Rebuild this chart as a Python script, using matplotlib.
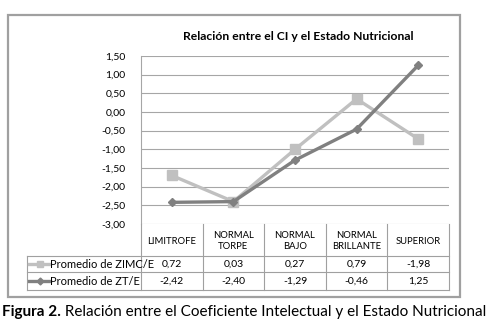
import matplotlib
matplotlib.use("Agg")
import matplotlib.pyplot as plt
from matplotlib.patches import Rectangle
from matplotlib.lines import Line2D
from matplotlib import font_manager as fm

categories = ["LIMITROFE", "NORMAL\nTORPE", "NORMAL\nBAJO", "NORMAL\nBRILLANTE", "SUPERIOR"]
zimc_plotted = [-1.70, -2.40, -1.00, 0.35, -0.72]
zt_values = [-2.42, -2.40, -1.29, -0.46, 1.25]
zimc_table = ["0,72", "0,03", "0,27", "0,79", "-1,98"]
zt_table = ["-2,42", "-2,40", "-1,29", "-0,46", "1,25"]
series_names = ["Promedio de ZIMC/E", "Promedio de ZT/E"]
yticks = [1.5, 1.0, 0.5, 0.0, -0.5, -1.0, -1.5, -2.0, -2.5, -3.0]
title = "Relación entre el CI y el Estado Nutricional"

names = {f.name for f in fm.fontManager.ttflist}
FONT = "Liberation Sans Narrow" if "Liberation Sans Narrow" in names else "Lato"
plt.rcParams['font.family'] = [FONT, 'DejaVu Sans']

W, H = 492, 330
fig = plt.figure(figsize=(W/100, H/100), dpi=100)

def fx(px):
    return px / W

def fy(py):
    return 1 - py / H

c_light = "#c0c0c0"
c_dark = "#808080"
grid_c = "#a6a6a6"

# outer box
fig.patches.append(Rectangle((fx(8), fy(297)), fx(460) - fx(8), fy(15) - fy(297),
                             transform=fig.transFigure, fill=False,
                             edgecolor="#a0a0a0", linewidth=1.6))

left, right, top, bottom = 141, 449, 56, 224
ax = fig.add_axes([fx(left), fy(bottom), fx(right) - fx(left), fy(top) - fy(bottom)])
x = list(range(len(categories)))
ax.set_xlim(-0.5, len(categories) - 0.5)
ax.set_ylim(-3.0, 1.5)
ax.set_yticks(yticks)
ax.set_yticklabels([f"{v:.2f}".replace(".", ",") for v in yticks], fontsize=7.5)
ax.tick_params(axis="y", length=0, pad=11)
ax.set_xticks([])
ax.yaxis.grid(True, color=grid_c, linewidth=0.8)
ax.set_axisbelow(True)
for s in ["top", "right", "bottom"]:
    ax.spines[s].set_visible(False)
ax.spines["left"].set_color(grid_c)
ax.spines["left"].set_linewidth(0.8)

ax.plot(x, zimc_plotted, color=c_light, linewidth=2.4, marker="s", markersize=7, zorder=3)
ax.plot(x, zt_values, color=c_dark, linewidth=2.4, marker="D", markersize=4.5, zorder=4)

# title
t = fig.text(fx(298), fy(36), title, ha="center", va="center", fontsize=9, fontweight="bold")
fig.canvas.draw()
w = t.get_window_extent().width
t.set_fontsize(9 * 230 / w)

# table
tab_lw = 0.8
tab_c = "#a0a0a0"
def hline(x0px, x1px, ypx):
    fig.add_artist(Line2D([fx(x0px), fx(x1px)], [fy(ypx), fy(ypx)], transform=fig.transFigure,
                          color=tab_c, linewidth=tab_lw))
def vline(xpx, y0px, y1px):
    fig.add_artist(Line2D([fx(xpx), fx(xpx)], [fy(y0px), fy(y1px)], transform=fig.transFigure,
                          color=tab_c, linewidth=tab_lw))

cat_w = (right - left) / len(categories)
bounds = [left + i * cat_w for i in range(len(categories) + 1)]
hdr_top, hdr_bot, r1_bot, r2_bot = 224, 256, 272, 290
leg_left = 27
hline(leg_left, right, hdr_bot)
hline(leg_left, right, r1_bot)
hline(leg_left, right, r2_bot)
vline(leg_left, hdr_bot, r2_bot)
for b in bounds:
    vline(b, hdr_top, r2_bot)

for i, cat in enumerate(categories):
    cx = (bounds[i] + bounds[i + 1]) / 2
    fig.text(fx(cx), fy((hdr_top + hdr_bot) / 2 + 1), cat, ha="center", va="center",
             fontsize=6.8, linespacing=1.25)
    fig.text(fx(cx), fy((hdr_bot + r1_bot) / 2 + 0.5), zimc_table[i], ha="center", va="center", fontsize=7.5)
    fig.text(fx(cx), fy((r1_bot + r2_bot) / 2 + 0.5), zt_table[i], ha="center", va="center", fontsize=7.5)

# legend keys in table
for (ypx0, ypx1), name, col, mk, ms in [((hdr_bot, r1_bot), series_names[0], c_light, "s", 5),
                                          ((r1_bot, r2_bot), series_names[1], c_dark, "D", 3.5)]:
    yc = fy((ypx0 + ypx1) / 2)
    fig.add_artist(Line2D([fx(29), fx(50)], [yc, yc], transform=fig.transFigure,
                          color=col, linewidth=2.4))
    fig.add_artist(Line2D([fx(40)], [yc], transform=fig.transFigure, color=col,
                          marker=mk, markersize=ms, linestyle="none"))
    fig.text(fx(50), fy((ypx0 + ypx1) / 2 + 0.5), name, ha="left", va="center", fontsize=8)

# caption
cap_font = "Lato"
c1 = fig.text(fx(2), fy(316), "Figura 2.", ha="left", va="baseline", fontsize=9.5,
              fontweight="bold", family=[cap_font, 'DejaVu Sans'])
fig.canvas.draw()
r = fig.canvas.get_renderer()
e1 = c1.get_window_extent(r)
c2 = fig.text(fx(2) + e1.width / W, fy(316), " Relación entre el Coeficiente Intelectual y el Estado Nutricional",
              ha="left", va="baseline", fontsize=9.5, family=[cap_font, 'DejaVu Sans'])
fig.canvas.draw()
total = e1.width + c2.get_window_extent(r).width
scale = 488 / total
c1.set_fontsize(9.5 * scale)
fig.canvas.draw()
e1 = c1.get_window_extent(r)
c2.set_fontsize(9.5 * scale)
c2.set_x(fx(2) + e1.width / W)

fig.savefig("out.png", dpi=100)
